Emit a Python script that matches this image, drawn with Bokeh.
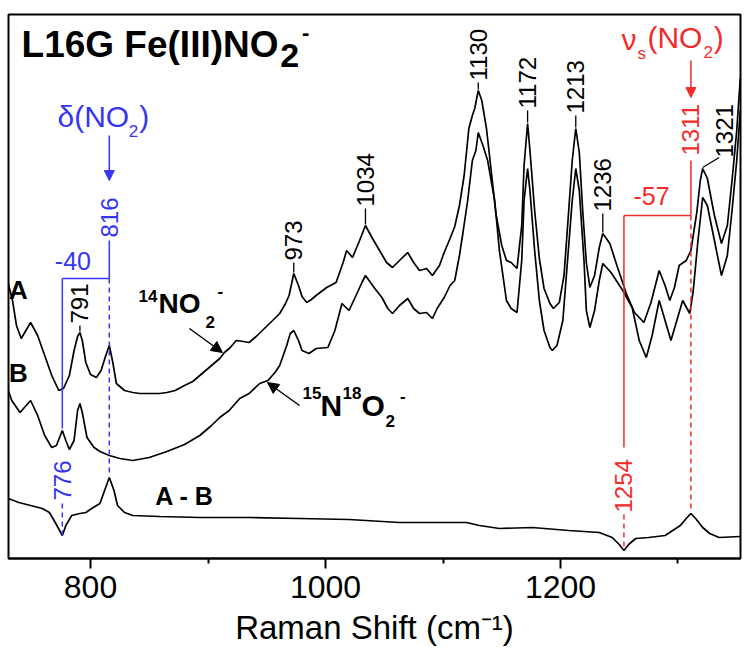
import numpy as np
from bokeh.plotting import figure
from bokeh.models import Range1d, FixedTicker, Arrow, NormalHead
from bokeh.embed import file_html
from bokeh.resources import INLINE
from bokeh.core.properties import value

# ---------------- data (Raman shift in cm-1, intensity in arbitrary units) ----------------
wn_A = [730, 733.6, 737, 741, 745, 749, 755, 761, 767, 773,
        777, 782, 786, 789, 791, 793, 796, 800, 805, 809,
        813, 816, 819, 822, 829, 836, 842, 850, 859, 865,
        872, 880, 887, 893, 903, 910, 914, 919, 924, 930,
        935, 941, 948, 955, 961, 966, 969, 973, 977, 980,
        984, 988, 992, 1001, 1009, 1015, 1018, 1023, 1029, 1034,
        1040, 1046, 1052, 1057, 1063, 1070, 1075, 1080, 1086, 1091,
        1097, 1101, 1106, 1110, 1114, 1118, 1122, 1125, 1127, 1130,
        1133, 1137, 1141, 1145, 1150, 1154, 1158, 1163, 1167, 1169,
        1172, 1174, 1178, 1182, 1186, 1191, 1194, 1199, 1203, 1207,
        1210, 1213, 1216, 1219, 1222, 1225, 1229, 1233, 1236, 1242,
        1248, 1256, 1263, 1271, 1277, 1284, 1289, 1293, 1297, 1301,
        1307, 1311, 1316, 1319, 1321, 1325, 1331, 1337, 1342, 1346,
        1350, 1353]
int_A = [275, 258, 233, 220, 228, 236, 223, 203, 183, 168,
         170, 183, 208, 222, 226, 218, 196, 184, 181, 188,
         203, 213, 196, 175, 168, 166, 165, 165, 165, 166,
         168, 173, 177, 183, 193, 200, 206, 211, 218, 217,
         216, 222, 230, 238, 245, 255, 263, 285, 273, 262,
         256, 259, 263, 271, 276, 296, 308, 301, 318, 333,
         320, 308, 296, 291, 298, 306, 296, 288, 290, 283,
         293, 306, 320, 332, 353, 383, 430, 443, 450, 468,
         458, 430, 388, 345, 313, 298, 296, 290, 333, 393,
         435, 408, 348, 300, 270, 255, 250, 256, 283, 348,
         398, 430, 406, 346, 296, 271, 283, 311, 325, 315,
         293, 265, 246, 236, 256, 288, 273, 258, 271, 293,
         298, 308, 346, 378, 390, 380, 343, 315, 333, 378,
         428, 480]

wn_B = [730, 733, 740, 749, 755, 761, 767, 771, 776, 779,
        782, 786, 789, 791, 793, 797, 803, 808, 816, 825,
        836, 850, 865, 880, 893, 903, 910, 918, 927, 935,
        944, 951, 957, 961, 967, 970, 973, 977, 980, 986,
        992, 1002, 1008, 1014, 1020, 1026, 1031, 1034, 1042, 1048,
        1053, 1057, 1063, 1070, 1075, 1080, 1086, 1091, 1095, 1101,
        1106, 1110, 1114, 1117, 1121, 1125, 1128, 1130, 1134, 1138,
        1144, 1148, 1154, 1158, 1163, 1167, 1169, 1172, 1174, 1178,
        1182, 1186, 1191, 1193, 1197, 1202, 1206, 1210, 1213, 1216,
        1220, 1222, 1225, 1229, 1233, 1236, 1243, 1253, 1261, 1267,
        1273, 1278, 1284, 1289, 1294, 1299, 1304, 1310, 1313, 1317,
        1321, 1325, 1331, 1337, 1342, 1346, 1350, 1353]
int_B = [168, 158, 146, 158, 143, 123, 111, 113, 128, 118,
         109, 118, 148, 155, 146, 121, 111, 107, 103, 100,
         98, 101, 107, 114, 123, 133, 141, 148, 160, 165,
         175, 178, 186, 193, 213, 225, 228, 218, 208, 205,
         210, 211, 228, 255, 248, 263, 276, 283, 270, 261,
         250, 245, 253, 260, 250, 245, 246, 240, 250, 261,
         273, 278, 303, 326, 358, 398, 408, 426, 413, 398,
         358, 308, 258, 250, 246, 298, 358, 390, 368, 308,
         258, 228, 211, 208, 213, 238, 298, 358, 390, 368,
         298, 248, 231, 248, 278, 295, 286, 268, 251, 218,
         201, 223, 258, 238, 218, 238, 258, 245, 268, 318,
         361, 353, 318, 283, 303, 348, 398, 448]

wn_D = [730, 739, 749, 759, 765, 770, 776, 779, 784, 791,
        796, 801, 808, 812, 816, 820, 823, 829, 836, 859,
        893, 935, 978, 1020, 1063, 1088, 1120, 1131, 1148, 1176,
        1207, 1233, 1244, 1250, 1254, 1258, 1264, 1275, 1289, 1302,
        1307, 1311, 1315, 1321, 1327, 1335, 1353]
int_D = [60, 56, 53, 50, 46, 36, 23, 33, 43, 45,
         46, 50, 55, 68, 81, 68, 53, 46, 43, 42,
         41, 41, 40, 39, 36, 36, 36, 33, 30, 31,
         28, 26, 21, 14, 8, 14, 20, 21, 23, 33,
         40, 45, 40, 31, 25, 21, 22]

x_ticks = [800, 1000, 1200]
x_minor_ticks = [900, 1100, 1300]

peak_labels = [791, 973, 1034, 1130, 1172, 1213, 1236]
peak_1321 = 1321
delta_A, delta_B = 816, 776      # delta(NO2): 14NO2 / 15N18O2
nus_A, nus_B = 1311, 1254        # nu_s(NO2): 14NO2 / 15N18O2

# ---------------- figure ----------------
FONT = value("Liberation Sans")
BLUE = "#3535f2"
RED = "#f22b2b"

p = figure(frame_width=732, frame_height=544,
           x_range=Range1d(730.2, 1353.2), y_range=Range1d(0, 544),
           output_backend="svg", toolbar_location=None, y_axis_location=None,
           min_border_left=8, min_border_right=6, min_border_top=14, min_border_bottom=96)
p.grid.visible = False
p.outline_line_color = "black"
p.outline_line_width = 2
p.outline_line_alpha = 1
p.background_fill_color = "white"
p.border_fill_color = "white"

ax = p.xaxis[0]
ax.ticker = FixedTicker(ticks=x_ticks, minor_ticks=x_minor_ticks)
ax.major_label_text_font = "Liberation Sans"
ax.major_label_text_font_size = "32px"
ax.major_label_text_color = "black"
ax.major_label_standoff = 7
ax.axis_line_width = 2
ax.axis_line_color = "black"
ax.major_tick_in = 0
ax.major_tick_out = 10
ax.minor_tick_in = 0
ax.minor_tick_out = 5
ax.major_tick_line_width = 2
ax.minor_tick_line_width = 2
ax.major_tick_line_color = "black"
ax.minor_tick_line_color = "black"
ax.axis_label = "Raman Shift (cm\u207b\u00b9)"
ax.axis_label_text_font = "Liberation Sans"
ax.axis_label_text_font_size = "33px"
ax.axis_label_text_font_style = "normal"
ax.axis_label_text_color = "black"
ax.axis_label_standoff = 8

# spectra
for xs, ys in ((wn_A, int_A), (wn_B, int_B), (wn_D, int_D)):
    p.line(xs, ys, line_color="black", line_width=1.7)


def txt(x, y, s, size, color="black", bold=False, align="left", baseline="middle", angle=0.0):
    p.text(x=[x], y=[y], text=[s], text_font=FONT, text_font_size=f"{size}px",
           text_font_style="bold" if bold else "normal", text_color=color,
           text_align=align, text_baseline=baseline, angle=angle)


def seg(x0, y0, x1, y1, color="black", dash="solid", width=1.5):
    p.segment(x0=[x0], y0=[y0], x1=[x1], y1=[y1], line_color=color,
              line_width=width, line_dash=dash)


def arrow(x0, y0, x1, y1, color, size=11):
    p.add_layout(Arrow(end=NormalHead(size=size, fill_color=color, line_color=color),
                       x_start=x0, y_start=y0, x_end=x1, y_end=y1,
                       line_color=color, line_width=1.5))


# peak labels on spectrum A
gaps = [7, 11, 17, 8, 13, 13, 20]
pk_y = np.interp(peak_labels, wn_A, int_A)
for xv, yv, g in zip(peak_labels, pk_y, gaps):
    seg(xv, yv + 1, xv, yv + g, width=1.3)
    txt(xv, yv + g + 2, str(xv), 24, angle=np.pi / 2)

y1321 = np.interp(peak_1321, wn_A, int_A)
seg(peak_1321, y1321 + 1, peak_1321 + 14, y1321 + 11, width=1.3)
txt(peak_1321 + 19, y1321 + 11, str(peak_1321), 24, angle=np.pi / 2)

# ---------------- delta(NO2) (blue) ----------------
yb = 280
dA = np.interp(delta_A, wn_D, int_D)
dB = np.interp(delta_B, wn_D, int_D)
bB = np.interp(delta_B, wn_B, int_B)
txt(771.9, 442, "\u03b4(NO", 30, BLUE)
txt(832.5, 428, "2", 17, BLUE)
txt(841.5, 442, ")", 30, BLUE)
arrow(delta_A, 423, delta_A, 378, BLUE, 10)
txt(delta_A, 321, str(delta_A), 24, BLUE, angle=np.pi / 2)
seg(delta_A, 318, delta_A, yb, BLUE)
seg(delta_B, yb, delta_A, yb, BLUE)
seg(delta_B, yb, delta_B, bB + 2, BLUE)
seg(delta_A, yb, delta_A, dA + 1, BLUE, dash="5 4")
txt(delta_B, 58, str(delta_B), 24, BLUE, angle=np.pi / 2)
seg(delta_B, 55, delta_B, dB, BLUE, dash="5 4")
txt((delta_A + delta_B) / 2 - 11, 298, f"-{delta_A - delta_B}", 25, BLUE, align="center")

# ---------------- nu_s(NO2) (red) ----------------
yr = 343
nA = np.interp(nus_A, wn_D, int_D)
nB = np.interp(nus_B, wn_D, int_D)
txt(1251.9, 519, "\u03bd", 30, RED)
txt(1265.5, 505, "s", 17, RED)
txt(1274.0, 521, "(NO", 30, RED)
txt(1321.7, 507, "2", 17, RED)
txt(1330.5, 521, ")", 30, RED)
arrow(nus_A, 498, nus_A, 461, RED, 10)
txt(nus_A, 403, str(nus_A), 24, RED, angle=np.pi / 2)
seg(nus_A, 398, nus_A, yr, RED)
seg(nus_B, yr, nus_A, yr, RED)
seg(nus_B, yr, nus_B, 111, RED)
txt(nus_B, 46, str(nus_B), 24, RED, angle=np.pi / 2)
seg(nus_B, 44, nus_B, nB, RED, dash="5 4")
seg(nus_A, yr, nus_A, nA + 1, RED, dash="5 4")
txt((nus_A + nus_B) / 2 - 5, 363, f"-{nus_A - nus_B}", 25, RED, align="center")

# ---------------- labels ----------------
txt(741.3, 514, "L16G Fe(III)NO", 37, bold=True)
txt(961.5, 503, "2", 34, bold=True)
txt(980.0, 526, "-", 22, bold=True)

txt(738.6, 269, "A", 26, bold=True, align="center")
txt(738.6, 186, "B", 26, bold=True, align="center")
txt(880.0, 63, "A - B", 25, bold=True, align="center")

txt(840.8, 263, "14", 17, bold=True)
txt(857.9, 255, "NO", 28, bold=True)
txt(897.9, 237, "2", 17, bold=True)
txt(908.1, 268, "-", 17, bold=True)
arrow(884.2, 230, 912.3, 206, "black", 11)

txt(980.4, 166, "15", 17, bold=True)
txt(995.7, 153, "N", 30, bold=True)
txt(1014.5, 166, "18", 17, bold=True)
txt(1030.6, 153, "O", 30, bold=True)
txt(1051.0, 138, "2", 17, bold=True)
txt(1063.5, 163, "-", 17, bold=True)
arrow(977.9, 153, 950.6, 176, "black", 11)

open("out.html", "w").write(file_html(p, INLINE))
